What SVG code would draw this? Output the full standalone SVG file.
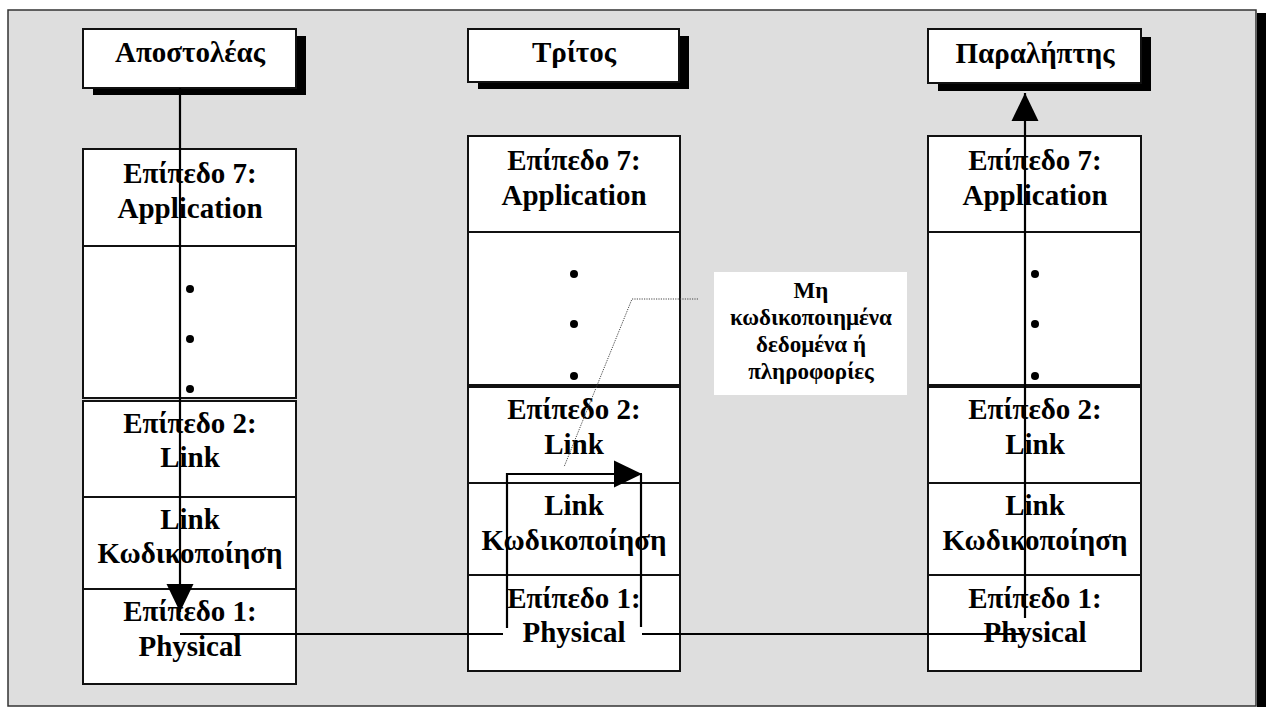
<svg xmlns="http://www.w3.org/2000/svg" width="1266" height="707" viewBox="0 0 1266 707">
  <style>
    .frame { fill: #dedede; stroke: #333; stroke-width: 1.5; }
    .shadow { fill: #000; }
    .box { fill: #fff; stroke: #111; stroke-width: 2; }
    .lbl { font-family: "Liberation Serif", "Times New Roman", serif; font-weight: bold; font-size: 29px; fill: #000; text-anchor: middle; }
    .note { font-family: "Liberation Serif", "Times New Roman", serif; font-weight: bold; font-size: 23px; fill: #000; text-anchor: middle; }
    .dot { fill: #000; }
    .flow { fill: none; stroke: #000; stroke-width: 2.2; }
    .leader { fill: none; stroke: #444; stroke-width: 1; stroke-dasharray: 1.2 1.2; }
  </style>
  <defs>
    <marker id="arrow" markerUnits="userSpaceOnUse" markerWidth="28" markerHeight="28" viewBox="0 0 27 26" refX="27" refY="13" orient="auto">
      <path d="M0,0 L27,13 L0,26 Z" fill="#000"/>
    </marker>
  </defs>

  <!-- background panel with drop shadow -->
  <g id="panel">
    <rect class="shadow" x="1257" y="13" width="12" height="700"/>
    <rect class="frame" x="8" y="10" width="1248" height="696"/>
  </g>

  <!-- sender -->
  <g id="sender-title">
    <rect class="shadow" x="93" y="36" width="213" height="59"/>
    <rect class="box" x="83" y="29" width="213" height="59"/>
    <text class="lbl" x="190" y="62">Αποστολέας</text>
  </g>
  <g id="sender-l7">
    <rect class="box" x="83" y="149" width="213" height="97"/>
    <text class="lbl" x="190" y="183">Επίπεδο 7:</text>
    <text class="lbl" x="190" y="218">Application</text>
  </g>
  <g id="sender-mid">
    <rect class="box" x="83" y="246" width="213" height="152"/>
    <circle class="dot" cx="190" cy="289" r="4"/>
    <circle class="dot" cx="190" cy="339" r="4"/>
    <circle class="dot" cx="190" cy="389" r="4"/>
  </g>
  <g id="sender-l2">
    <rect class="box" x="83" y="401" width="213" height="96"/>
    <text class="lbl" x="190" y="433">Επίπεδο 2:</text>
    <text class="lbl" x="190" y="467">Link</text>
  </g>
  <g id="sender-enc">
    <rect class="box" x="83" y="497" width="213" height="92"/>
    <text class="lbl" x="190" y="529">Link</text>
    <text class="lbl" x="190" y="563">Κωδικοποίηση</text>
  </g>
  <g id="sender-l1">
    <rect class="box" x="83" y="589" width="213" height="95"/>
    <text class="lbl" x="190" y="621">Επίπεδο 1:</text>
    <text class="lbl" x="190" y="656">Physical</text>
  </g>

  <!-- third party -->
  <g id="third-title">
    <rect class="shadow" x="478" y="36" width="211" height="53"/>
    <rect class="box" x="468" y="29" width="211" height="53"/>
    <text class="lbl" x="574" y="62">Τρίτος</text>
  </g>
  <g id="third-l7">
    <rect class="box" x="468" y="136" width="212" height="96"/>
    <text class="lbl" x="574" y="170">Επίπεδο 7:</text>
    <text class="lbl" x="574" y="205">Application</text>
  </g>
  <g id="third-mid">
    <rect class="box" x="468" y="232" width="212" height="153"/>
    <circle class="dot" cx="574" cy="274" r="4"/>
    <circle class="dot" cx="574" cy="324" r="4"/>
    <circle class="dot" cx="574" cy="376" r="4"/>
  </g>
  <g id="third-l2">
    <rect class="box" x="468" y="387" width="212" height="96"/>
    <text class="lbl" x="574" y="419">Επίπεδο 2:</text>
    <text class="lbl" x="574" y="454">Link</text>
  </g>
  <g id="third-enc">
    <rect class="box" x="468" y="483" width="212" height="92"/>
    <text class="lbl" x="574" y="515">Link</text>
    <text class="lbl" x="574" y="550">Κωδικοποίηση</text>
  </g>
  <g id="third-l1">
    <rect class="box" x="468" y="575" width="212" height="96"/>
    <text class="lbl" x="574" y="608">Επίπεδο 1:</text>
    <text class="lbl" x="574" y="642">Physical</text>
  </g>

  <!-- receiver -->
  <g id="receiver-title">
    <rect class="shadow" x="938" y="37" width="213" height="54"/>
    <rect class="box" x="928" y="29" width="213" height="54"/>
    <text class="lbl" x="1035" y="63">Παραλήπτης</text>
  </g>
  <g id="receiver-l7">
    <rect class="box" x="928" y="136" width="213" height="96"/>
    <text class="lbl" x="1035" y="170">Επίπεδο 7:</text>
    <text class="lbl" x="1035" y="205">Application</text>
  </g>
  <g id="receiver-mid">
    <rect class="box" x="928" y="232" width="213" height="153"/>
    <circle class="dot" cx="1035" cy="274" r="4"/>
    <circle class="dot" cx="1035" cy="324" r="4"/>
    <circle class="dot" cx="1035" cy="376" r="4"/>
  </g>
  <g id="receiver-l2">
    <rect class="box" x="928" y="387" width="213" height="96"/>
    <text class="lbl" x="1035" y="419">Επίπεδο 2:</text>
    <text class="lbl" x="1035" y="454">Link</text>
  </g>
  <g id="receiver-enc">
    <rect class="box" x="928" y="483" width="213" height="92"/>
    <text class="lbl" x="1035" y="515">Link</text>
    <text class="lbl" x="1035" y="550">Κωδικοποίηση</text>
  </g>
  <g id="receiver-l1">
    <rect class="box" x="928" y="575" width="213" height="96"/>
    <text class="lbl" x="1035" y="608">Επίπεδο 1:</text>
    <text class="lbl" x="1035" y="642">Physical</text>
  </g>

  <!-- callout -->
  <g id="note">
    <rect x="714" y="272" width="193" height="123" fill="#fff"/>
    <text class="note" x="811" y="298">Μη</text>
    <text class="note" x="811" y="325">κωδικοποιημένα</text>
    <text class="note" x="811" y="352">δεδομένα ή</text>
    <text class="note" x="811" y="379">πληροφορίες</text>
  </g>

  <!-- data path -->
  <g id="connectors">
    <path class="flow" d="M180,88 V612" marker-end="url(#arrow)"/>
    <path class="flow" d="M180,634 H503"/>
    <path class="flow" d="M507,628 V474 H642" marker-end="url(#arrow)"/>
    <path class="flow" d="M641,474 V627"/>
    <path class="flow" d="M642,634 H1022"/>
    <path class="flow" d="M1025,618 V93" marker-end="url(#arrow)"/>
    <path class="leader" d="M698,299 H632 L564,467"/>
  </g>
</svg>
